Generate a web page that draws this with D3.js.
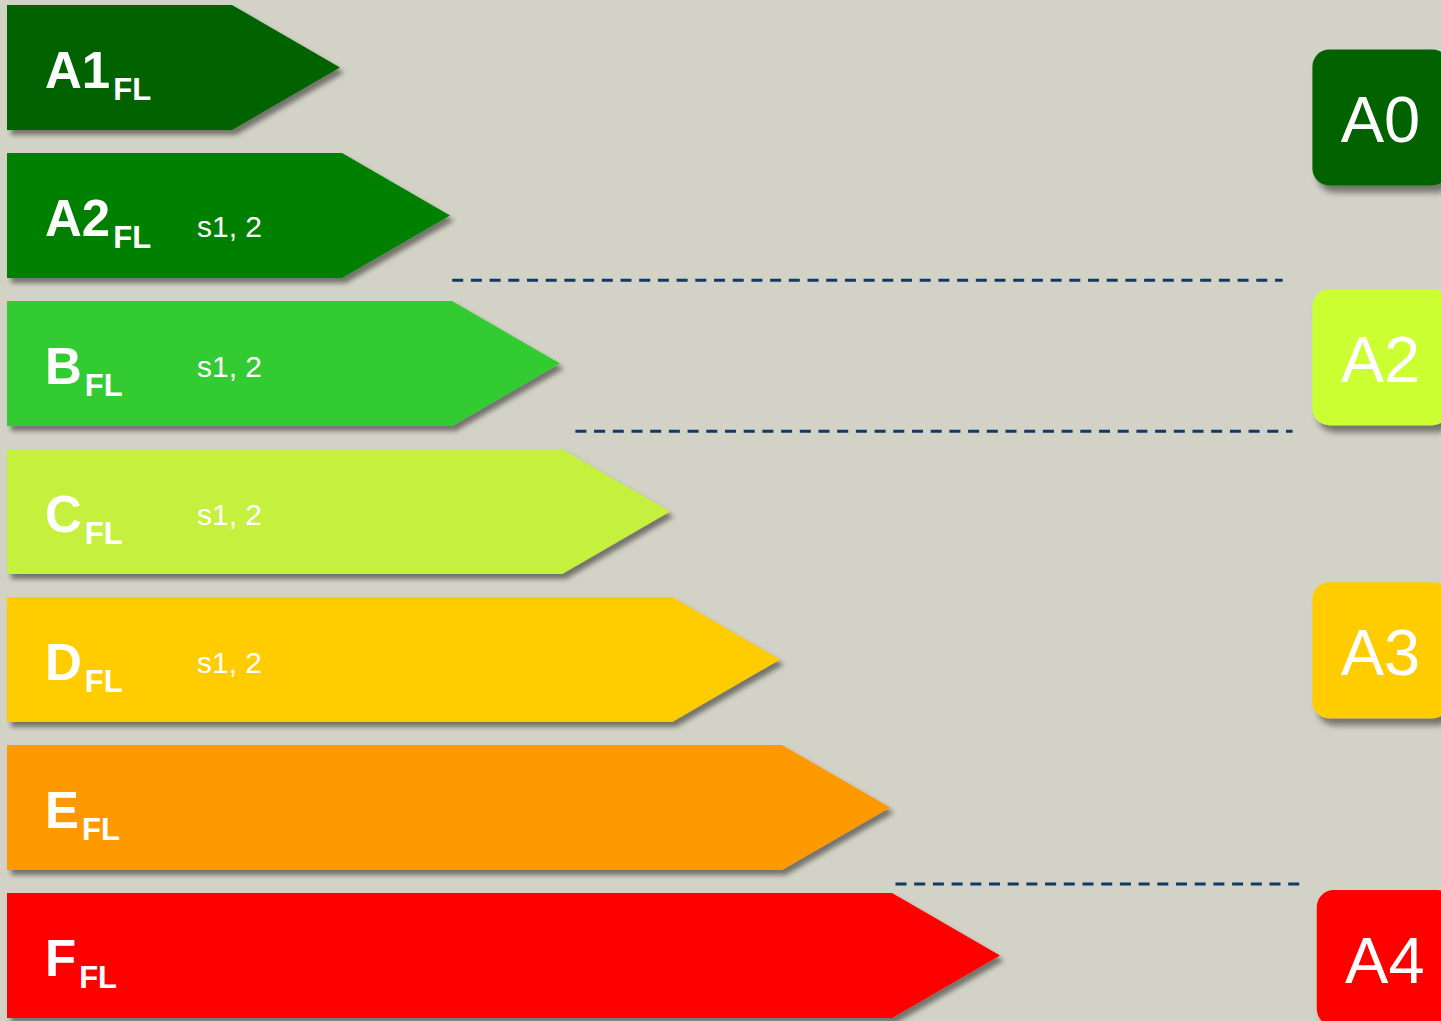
<!DOCTYPE html>
<html>
<head>
<meta charset="utf-8">
<script src="https://cdn.jsdelivr.net/npm/d3@7"></script>
<style>
    html, body { margin: 0; padding: 0; background: #d2d2c6; }
    svg { display: block; }
    text { font-family: 'Liberation Sans', Arial, sans-serif; fill: #fff; }
</style>
</head>
<body>
<svg id="chart"></svg>
<script>
// floor covering reaction-to-fire classes
var classes = ['A1', 'A2', 'B', 'C', 'D', 'E', 'F'];
var classSuffix = 'FL';
var smokeNotes = ['', 's1, 2', 's1, 2', 's1, 2', 's1, 2', '', ''];
var classRank = [1, 2, 3, 4, 5, 6, 7];
var arrowColors = ['#006400', '#008000', '#33cc33', '#c5f03e', '#ffcc00', '#ff9900', '#ff0000'];

// equivalent classes on the right, box top in row units
var euroClasses = ['A0', 'A2', 'A3', 'A4'];
var euroRow = [0.30, 1.92, 3.90, 5.98];
var euroRank = [9.84, 9.84, 9.84, 9.88];
var euroColors = ['#006400', '#ccff33', '#ffcc00', '#ff0000'];

// dashed separators: level in row units, start/end in rank units
var dividerRow = [1.86, 2.88, 5.94];
var dividerFrom = [2.02, 3.14, 6.05];
var dividerTo = [9.57, 9.66, 9.73];

const width = 1441;
const height = 1021;
const rowHeight = 125;
const head = 108;

var svg = d3.select('#chart').attr('width', width).attr('height', height);

var x = d3.scaleLinear().domain([0, 7]).range([230, 1000]);
var y = d3.scaleLinear().domain([0, 7]).range([5, 5 + 148 * 7]);

var defs = svg.append('defs');
defs.append('filter')
    .attr('id', 'arrowShadow')
    .attr('x', '-10%').attr('y', '-10%')
    .attr('width', '130%').attr('height', '130%')
    .append('feDropShadow')
    .attr('dx', 4).attr('dy', 5)
    .attr('stdDeviation', 2.5)
    .attr('flood-color', '#000')
    .attr('flood-opacity', 0.45);
defs.append('filter')
    .attr('id', 'boxShadow')
    .attr('x', '-20%').attr('y', '-20%')
    .attr('width', '150%').attr('height', '150%')
    .append('feDropShadow')
    .attr('dx', 5).attr('dy', 7)
    .attr('stdDeviation', 3)
    .attr('flood-color', '#000')
    .attr('flood-opacity', 0.45);

svg.append('rect')
    .attr('width', width).attr('height', height)
    .attr('fill', '#d2d2c6');

var rows = classes.map(function (c, i) {
    return { name: c, note: smokeNotes[i], rank: classRank[i], color: arrowColors[i], i: i };
});

// arrows
var arrow = svg.selectAll('g.arrow')
    .data(rows)
    .enter()
    .append('g')
    .attr('class', 'arrow')
    .attr('transform', (d) => 'translate(0,' + y(d.i) + ')');

arrow.append('path')
    .attr('d', function (d) {
        var tip = x(d.rank);
        var body = tip - head;
        return 'M7,0L' + body + ',0L' + tip + ',' + rowHeight / 2 +
            'L' + body + ',' + rowHeight + 'L7,' + rowHeight + 'Z';
    })
    .attr('fill', (d) => d.color)
    .attr('filter', 'url(#arrowShadow)');

var label = arrow.append('text')
    .attr('x', 45)
    .attr('y', 83)
    .style('font-weight', 'bold')
    .style('font-size', '51px');
label.append('tspan').text((d) => d.name);
label.append('tspan')
    .attr('dx', 3)
    .attr('dy', 12)
    .style('font-size', '31px')
    .text(classSuffix);

arrow.append('text')
    .attr('x', 197)
    .attr('y', (d) => (d.i === 1 ? 84 : 76))
    .style('font-size', '30px')
    .text((d) => d.note);

// dashed separators
svg.selectAll('line.divider')
    .data(dividerRow)
    .enter()
    .append('line')
    .attr('class', 'divider')
    .attr('x1', (d, i) => x(dividerFrom[i]))
    .attr('x2', (d, i) => x(dividerTo[i]))
    .attr('y1', (d) => y(d))
    .attr('y2', (d) => y(d))
    .attr('stroke', '#0f3a6a')
    .attr('stroke-width', 3)
    .attr('stroke-dasharray', '11,7.7');

// equivalent class boxes
var box = svg.selectAll('g.euro')
    .data(euroClasses)
    .enter()
    .append('g')
    .attr('class', 'euro')
    .attr('transform', (d, i) => 'translate(' + x(euroRank[i]) + ',' + y(euroRow[i]) + ')');

box.append('rect')
    .attr('width', 137)
    .attr('height', 136)
    .attr('rx', 17)
    .attr('fill', (d, i) => euroColors[i])
    .attr('filter', 'url(#boxShadow)');

box.append('text')
    .attr('x', 68)
    .attr('y', 93)
    .attr('text-anchor', 'middle')
    .style('font-size', '65px')
    .text((d) => d);
</script>
</body>
</html>
